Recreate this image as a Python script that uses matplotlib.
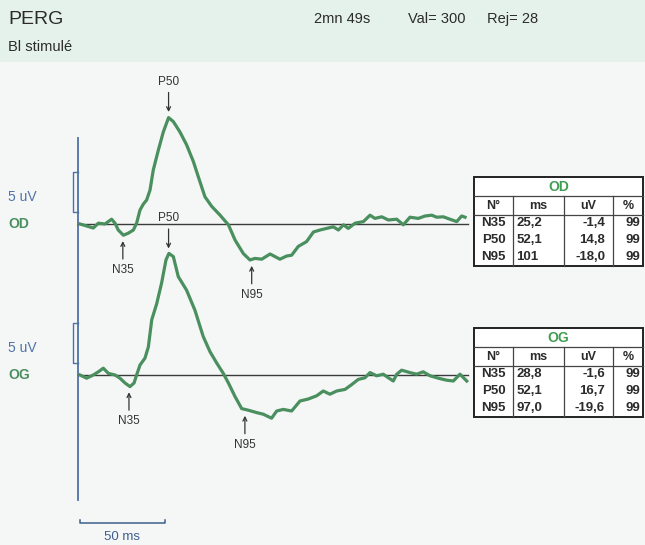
import numpy as np
import matplotlib
matplotlib.use("Agg")
import matplotlib.pyplot as plt
from matplotlib.patches import Rectangle

plt.rcParams['font.family'] = ['Liberation Sans', 'DejaVu Sans']

# ---------------- data (time in ms, amplitude in uV) ----------------
od_t = [0, 3.9, 7.8, 10.8, 14.7, 18.6, 20.6, 22.5, 25.5, 28.4, 31.4, 33.3, 35.3, 37.3,
        39.2, 41.2, 43.1, 46.1, 49, 52.1, 54.9, 58.8, 62.7, 66.7, 69.6, 73.5, 77.5,
        82.4, 87.3, 91.2, 96.1, 100, 102.9, 106.9, 111.8, 117.6, 121.6, 124.5, 128.4,
        133.3, 137.3, 141.2, 145.1, 149, 152, 155, 157.8, 161.8, 166.7, 170.6, 173.5,
        177.5, 181.4, 186.3, 190.2, 194.1, 199, 203, 206.9, 209.8, 213.7, 217.6, 221.6,
        224.5, 226.5]
od_v = [0, -0.25, -0.5, 0.1, 0, 0.6, 0.1, -0.75, -1.4, -1.15, -0.75, 0.1, 1.75, 2.5,
        3.0, 4.25, 6.75, 9.25, 11.5, 13.3, 12.8, 11.5, 9.9, 7.8, 5.9, 3.4, 2.2,
        1.1, -0.1, -2.0, -3.7, -4.5, -4.3, -4.4, -3.75, -4.4, -4.0, -3.9, -2.8,
        -2.2, -1.0, -0.75, -0.55, -0.35, -0.75, -0.1, -0.55, 0.1, 0.3, 1.1, 0.7,
        0.9, 0.5, 0.6, -0.1, 0.85, 0.7, 1.0, 1.1, 0.85, 0.9, 0.6, 0.3,
        1.0, 0.85]

og_t = [0, 3.9, 7.8, 10.8, 13.7, 16.7, 20.6, 23.5, 26.5, 29.4, 31.8, 33.3, 35.3, 38.2,
        40.2, 42.2, 45.1, 48, 50.6, 52.3, 54.9, 57.8, 62.7, 67.6, 72.5, 76.5, 80.4,
        84.3, 87.3, 91.2, 95.1, 99, 103.9, 107.8, 112.7, 115.7, 119.6, 124.5, 129.4,
        134.3, 139.2, 143.1, 147, 151, 155.9, 159.8, 163.7, 167.6, 170.6, 174.5, 178.4,
        181.4, 184.3, 186.3, 189.2, 194.1, 198, 201.9, 205.9, 210.8, 215.7, 219.6,
        223.5, 227.5]
og_v = [0, -0.4, 0, 0.4, 0.85, 0.2, 0, -0.4, -1.0, -1.45, -1.0, 0, 1.25, 2.1,
        3.5, 6.9, 8.9, 11.5, 14.4, 15.2, 14.8, 12.3, 10.6, 8.1, 4.8, 2.9, 1.5,
        0.2, -1.0, -2.7, -4.2, -4.4, -4.7, -4.9, -5.4, -4.5, -4.3, -4.5, -3.25,
        -3.0, -2.6, -2.0, -2.4, -2.0, -1.8, -1.2, -0.55, -0.35, 0.3, -0.1, 0.1,
        -0.35, -0.75, 0.1, 0.6, 0.3, 0.1, 0.4, -0.1, -0.4, -0.65, -0.75,
        0.1, -0.75]

peak_names = ["N35", "P50", "N95"]
od_ms = [25.2, 52.1, 101.0]
od_uv = [-1.4, 14.8, -18.0]
od_pct = [99, 99, 99]
og_ms = [28.8, 52.1, 97.0]
og_uv = [-1.6, 16.7, -19.6]
og_pct = [99, 99, 99]

title = "PERG"
subtitle = "Bl stimulé"
duration = "2mn 49s"
val_count = 300
rej_count = 28
scale_ms = 50
scale_uv = 5

# ---------------- layout ----------------
W, H = 645, 545
X0 = 80.0      # px of t = 0
PXMS = 1.7     # px per ms
PXUV = 8.0     # px per uV

GREEN = '#4a8f5e'
BLUE = '#4f72a6'
DARK = '#2b2b2b'

fig = plt.figure(figsize=(W / 100, H / 100), dpi=100, facecolor='#f5f6f6')
bg = fig.add_axes([0, 0, 1, 1])
bg.set_xlim(0, W)
bg.set_ylim(H, 0)
bg.axis('off')
bg.patch.set_alpha(0)
bg.add_patch(Rectangle((0, 0), W, 62, color='#e4f2eb', lw=0, zorder=0))

# header
bg.text(8, 19, title, fontsize=14, color=DARK, va='center', ha='left')
bg.text(314, 19, duration, fontsize=10.5, color=DARK, va='center', ha='left')
bg.text(408, 19, f"Val= {val_count}", fontsize=10.5, color=DARK, va='center', ha='left')
bg.text(487, 19, f"Rej= {rej_count}", fontsize=10.5, color=DARK, va='center', ha='left')
bg.text(8, 47, subtitle, fontsize=10.5, color=DARK, va='center', ha='left')

# vertical reference line
bg.plot([78, 78], [138, 500], color=BLUE, lw=1.3)


def trace_axes(base_px, top_px, bot_px):
    ax = fig.add_axes([0, (H - bot_px) / H, 1, (bot_px - top_px) / H])
    ax.set_xlim((0 - X0) / PXMS, (W - X0) / PXMS)
    ax.set_ylim((base_px - bot_px) / PXUV, (base_px - top_px) / PXUV)
    ax.axis('off')
    ax.patch.set_alpha(0)
    return ax


def draw_trace(ax, t, v, eye, ms_list):
    t = np.asarray(t)
    v = np.asarray(v)
    ax.plot([-1.2, 228.5], [0, 0], color='#3a3a3a', lw=1.0, zorder=2)
    ax.plot(t, v, color=GREEN, lw=2.3, zorder=3, solid_joinstyle='round')
    # 5 uV bracket
    bx0, bx1 = -4.1, -1.2
    ax.plot([bx1, bx0, bx0, bx1], [1.5, 1.5, 1.5 + scale_uv, 1.5 + scale_uv],
            color=BLUE, lw=1.0)
    ax.text(-42.4, 3.4, f"{scale_uv} uV", fontsize=10, color=BLUE, ha='left', va='center')
    ax.text(-42.4, 0, eye, fontsize=10, color=GREEN, ha='left', va='center',
            fontweight='bold')
    for name, ms in zip(peak_names, ms_list):
        vt = np.interp(ms, t, v)
        if name.startswith('P'):
            tip = vt + 0.7
            txt = tip + 3.8
        else:
            tip = vt - 0.8
            txt = tip - 3.6
        ax.annotate(name, xy=(ms, tip), xytext=(ms, txt), ha='center', va='center',
                    fontsize=8.5, color='#333333',
                    arrowprops=dict(arrowstyle='->', lw=0.9, color='#333333',
                                    shrinkA=1.5, shrinkB=0, mutation_scale=7))


ax_od = trace_axes(224, 60, 310)
draw_trace(ax_od, od_t, od_v, "OD", od_ms)

ax_og = trace_axes(375, 200, 545)
draw_trace(ax_og, og_t, og_v, "OG", og_ms)

# time scale bar
ys = (375 - 523) / PXUV
ax_og.plot([0, 0, scale_ms, scale_ms], [ys + 0.4, ys, ys, ys + 0.4], color='#3e5f8e', lw=1.1)
ax_og.text(scale_ms / 2, (375 - 537) / PXUV, f"{scale_ms} ms", fontsize=9.5,
           color='#3e5f8e', ha='center', va='center')


def fmt_ms(x):
    return f"{x:.0f}" if x >= 100 else f"{x:.1f}".replace('.', ',')


def fmt_uv(x):
    return f"{x:.1f}".replace('.', ',')


def draw_table(top, eye, ms_list, uv_list, pct_list):
    cols = [474, 513, 564, 613, 643]
    r1 = top + 19.5
    r2 = top + 38
    rh = 16.7
    bottom = r2 + 3 * rh + 1
    bg.add_patch(Rectangle((cols[0], top), cols[-1] - cols[0], bottom - top,
                           facecolor='white', edgecolor='#222222', lw=1.4, zorder=3))
    bg.plot([cols[0], cols[-1]], [r1, r1], color='#444444', lw=0.9, zorder=4)
    bg.plot([cols[0], cols[-1]], [r2, r2], color='#444444', lw=0.9, zorder=4)
    for c in cols[1:-1]:
        bg.plot([c, c], [r1, bottom], color='#444444', lw=0.9, zorder=4)
    bg.text((cols[0] + cols[-1]) / 2, (top + r1) / 2 + 0.5, eye, fontsize=10,
            fontweight='bold', color='#3f9e52', ha='center', va='center', zorder=5)
    hy = (r1 + r2) / 2 + 0.5
    for lab, x in zip(["N°", "ms", "uV", "%"], [493.5, 538.5, 588.5, 628]):
        bg.text(x, hy, lab, fontsize=9, fontweight='bold', color=DARK,
                ha='center', va='center', zorder=5)
    for i, name in enumerate(peak_names):
        y = r2 + rh * (i + 0.5) + 0.5
        kw = dict(fontsize=9.5, fontweight='bold', color=DARK, va='center', zorder=5)
        bg.text(493.5, y, name, ha='center', **kw)
        bg.text(516.5, y, fmt_ms(ms_list[i]), ha='left', **kw)
        bg.text(605, y, fmt_uv(uv_list[i]), ha='right', **kw)
        bg.text(640, y, f"{pct_list[i]}", ha='right', **kw)


draw_table(176.5, "OD", od_ms, od_uv, od_pct)
draw_table(327.5, "OG", og_ms, og_uv, og_pct)

fig.savefig("out.png", dpi=100, facecolor=fig.get_facecolor())
